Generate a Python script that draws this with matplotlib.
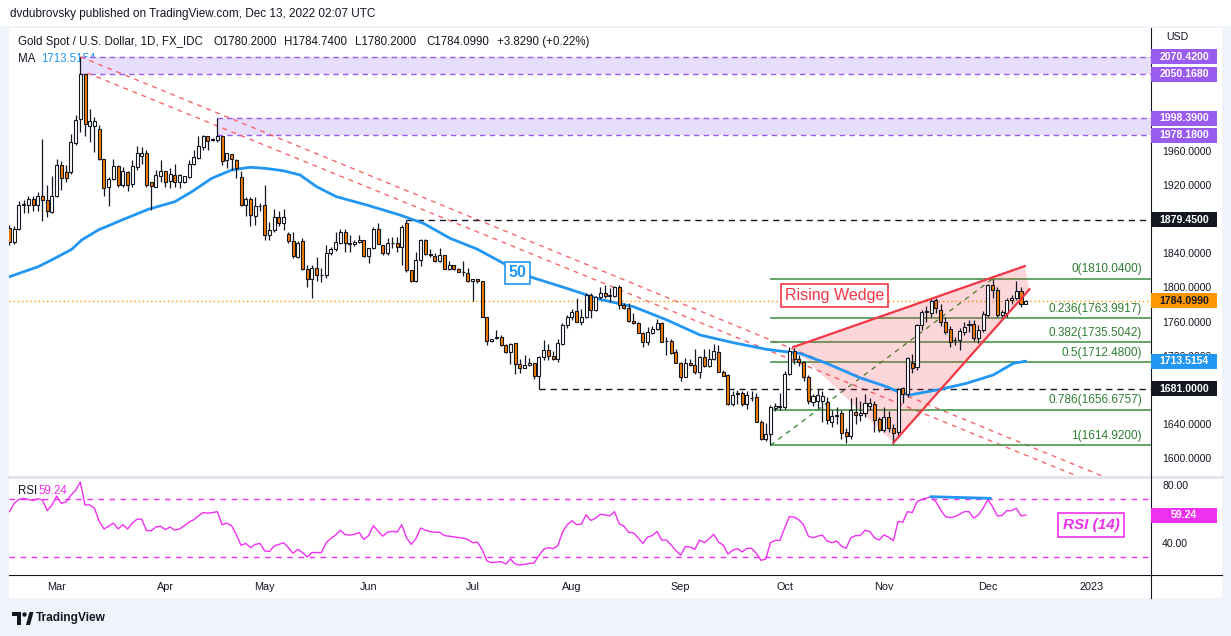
import numpy as np
import pandas as pd
import matplotlib
matplotlib.use("Agg")
import matplotlib.pyplot as plt
import matplotlib.transforms as mtransforms
from matplotlib.patches import Rectangle, Polygon

plt.rcParams['font.family'] = ['Liberation Sans', 'DejaVu Sans']

# daily gold candles, 15 Feb 2022 .. 13 Dec 2022
opens = [1870, 1853, 1868, 1897, 1897, 1904, 1897, 1907, 1902, 1888,
         1907, 1944, 1935, 1935, 1969, 1997, 2050, 1989, 1989, 1986,
         1951, 1918, 1927, 1942, 1920, 1935, 1921, 1941, 1954, 1957,
         1923, 1918, 1931, 1937, 1925, 1932, 1923, 1923, 1930, 1945,
         1952, 1965, 1977, 1973, 1973, 1977, 1949, 1956, 1949, 1929,
         1897, 1904, 1884, 1895, 1897, 1862, 1867, 1883, 1876, 1863,
         1854, 1836, 1854, 1821, 1810, 1823, 1814, 1815, 1840, 1845,
         1852, 1865, 1852, 1851, 1853.5, 1855.5, 1837, 1846, 1868.5, 1850,
         1840, 1852, 1852, 1847, 1875, 1820, 1807, 1832, 1856, 1839,
         1837, 1831, 1838, 1822, 1826, 1822, 1818, 1817, 1807.5, 1810,
         1807.5, 1765, 1737.5, 1741, 1741.5, 1733, 1724.6, 1734.5, 1710, 1706,
         1709, 1711, 1696.5, 1718, 1726.6, 1719.6, 1715.7, 1734, 1756, 1765,
         1772, 1760, 1765, 1791, 1774, 1788.4, 1794, 1790, 1790, 1801,
         1779.4, 1775.5, 1761, 1758.6, 1747, 1736.3, 1747, 1751, 1758.6, 1737.5,
         1737, 1724, 1711, 1695.3, 1711.8, 1708.7, 1701.2, 1718, 1708, 1716,
         1724, 1700.5, 1697, 1663, 1676, 1676, 1663, 1670, 1672, 1642.6,
         1622, 1628, 1659, 1660, 1660, 1699, 1725, 1716, 1712, 1694.6,
         1666, 1667, 1667, 1666, 1642.6, 1649, 1652.4, 1630, 1626, 1653.5,
         1650.4, 1652.4, 1661, 1663, 1645.7, 1633, 1648.4, 1634.8, 1630, 1681.7,
         1675, 1711, 1707, 1756, 1771, 1770.4, 1785, 1773.5, 1760, 1751,
         1738, 1738.3, 1748, 1756, 1757, 1740.3, 1750, 1767.6, 1802.8, 1797.4,
         1767.6, 1769.6, 1785.2, 1787.2, 1796.1, 1780.2]
highs = [1873, 1872, 1901, 1902, 1907, 1907, 1912, 1974, 1920, 1931,
         1951, 1948, 1943, 1980, 2002, 2070.42, 2050.5, 2009, 2000, 1990,
         1951, 1930, 1951, 1943, 1941, 1936, 1949, 1966, 1965, 1961,
         1923, 1938, 1949, 1937, 1940, 1945, 1933, 1931, 1949, 1961,
         1978, 1979, 1977.5, 1975, 1998.39, 1978, 1957, 1956, 1951, 1936,
         1906, 1906, 1906, 1899, 1920, 1877, 1892, 1890, 1892, 1865,
         1865, 1854, 1858, 1826, 1826, 1836, 1823, 1850, 1847, 1865,
         1869, 1868, 1861, 1855, 1861, 1856, 1846, 1871, 1875, 1850,
         1858, 1859, 1859, 1873, 1879.45, 1820, 1842, 1857, 1857, 1845,
         1840, 1846, 1838, 1831, 1826, 1823, 1831, 1823, 1810, 1810,
         1807.5, 1765, 1740, 1750, 1744, 1734, 1735, 1735, 1716, 1721,
         1717, 1711, 1720, 1738, 1734, 1726, 1740, 1758, 1768, 1775,
         1788, 1775, 1794, 1794, 1790, 1800, 1803, 1799, 1802, 1803,
         1782, 1782, 1770, 1759, 1748, 1754, 1755, 1763, 1759, 1742,
         1740, 1728, 1713, 1717, 1716, 1728, 1720, 1728, 1728, 1734,
         1732, 1703, 1698, 1678, 1680, 1679, 1679, 1679, 1676, 1644,
         1641, 1662, 1664, 1676, 1702, 1729.6, 1729, 1721, 1714, 1697,
         1675, 1681, 1678, 1671, 1656, 1660, 1656, 1635, 1670, 1672,
         1667, 1675, 1670, 1667, 1648, 1660, 1655, 1640, 1682, 1683,
         1718, 1722, 1757, 1773, 1778, 1786, 1787, 1780, 1765, 1755,
         1742, 1752, 1760, 1762, 1762, 1756, 1772, 1804.5, 1810.04, 1800,
         1773, 1788, 1791, 1807.5, 1800, 1784.74]
lows = [1850, 1851, 1867, 1887, 1887, 1890, 1890, 1878, 1883, 1887,
        1906, 1914, 1924, 1933, 1967, 1982, 1977, 1971, 1959, 1949,
        1907, 1896, 1926, 1918, 1918, 1913, 1918, 1938, 1945, 1918,
        1891, 1918, 1924, 1918, 1916, 1918, 1917, 1922, 1928, 1944,
        1951, 1961, 1961, 1972, 1971, 1943, 1940, 1938, 1928, 1895,
        1884, 1872, 1873, 1890, 1856, 1856, 1865, 1872, 1867, 1852,
        1835, 1834, 1820, 1800, 1788, 1808, 1806, 1811, 1838, 1843,
        1851, 1842, 1842, 1849, 1852, 1836, 1829, 1845, 1851, 1838,
        1838, 1846, 1842, 1826, 1818, 1806, 1806, 1825, 1838, 1836,
        1830, 1830, 1821, 1820, 1820, 1818, 1813, 1806, 1784, 1805,
        1765, 1733, 1736, 1739, 1731, 1723, 1710, 1699, 1700, 1705,
        1708, 1693, 1681, 1715, 1715, 1715, 1713, 1733, 1752, 1762,
        1760, 1756, 1764, 1764, 1772, 1786, 1788, 1783, 1789, 1775,
        1775, 1760, 1757, 1746, 1730, 1733, 1745, 1750, 1736, 1720.7,
        1722, 1711, 1690.5, 1694.5, 1708, 1699, 1693.5, 1707, 1707, 1715,
        1701, 1696, 1662, 1661, 1663, 1661, 1658, 1667, 1642, 1621,
        1620, 1614.92, 1655, 1656, 1658, 1697, 1710, 1708, 1690, 1663,
        1661, 1659, 1642, 1640, 1636, 1640, 1622, 1618, 1622, 1640,
        1643, 1648, 1656, 1630, 1630, 1630, 1630, 1616.6, 1626, 1664,
        1672, 1700, 1703, 1750, 1760, 1765, 1770, 1755, 1745, 1730,
        1733, 1727, 1744, 1748, 1737, 1735, 1748, 1765, 1787, 1765,
        1765, 1765, 1780, 1785, 1777, 1780.2]
closes = [1853, 1869, 1897, 1898, 1904, 1897, 1907, 1902, 1889, 1907,
          1944, 1928, 1928, 1970, 1996, 2050, 1991, 1995, 1995, 1950,
          1917, 1927, 1942, 1920, 1936, 1920, 1942, 1957, 1957, 1920,
          1919, 1932, 1937, 1924, 1933, 1923, 1932, 1931, 1945, 1953,
          1966, 1977, 1972, 1974, 1977, 1948, 1957, 1951, 1940, 1897,
          1904, 1885, 1895, 1896, 1862, 1867, 1882, 1876, 1883, 1854,
          1837, 1852, 1822, 1810, 1823, 1814, 1815, 1840, 1845, 1853,
          1865, 1852, 1851, 1853.5, 1855.5, 1837, 1846, 1868.5, 1851, 1840,
          1852, 1852, 1847, 1870.5, 1820, 1807, 1832, 1856, 1839, 1838,
          1831, 1838, 1822, 1826, 1822, 1818, 1818, 1807.5, 1810, 1807.5,
          1765, 1737.5, 1740, 1741.5, 1733, 1724.6, 1734, 1710, 1706, 1709,
          1711, 1696.5, 1718, 1726.6, 1719, 1715.7, 1734.5, 1756, 1765, 1771,
          1760, 1765, 1791, 1774, 1788.4, 1794, 1790, 1791, 1801, 1779.4,
          1775.5, 1761, 1758.5, 1747, 1735.6, 1748, 1751, 1758.6, 1736.3, 1737,
          1722.7, 1711, 1695.3, 1711, 1709, 1701.2, 1718, 1708, 1715.6, 1725.4,
          1701, 1696.5, 1663, 1674, 1675, 1663, 1674, 1670.5, 1642.6, 1622,
          1628, 1660, 1660.5, 1661, 1699, 1725, 1716, 1712, 1694.6, 1667,
          1673, 1673.5, 1672.7, 1644.5, 1649, 1650, 1629, 1626, 1656.5, 1650.4,
          1652.4, 1664, 1664, 1644, 1633, 1648.4, 1634.8, 1629, 1681, 1675,
          1716.8, 1705, 1756, 1771.5, 1772.3, 1784.4, 1776, 1760, 1748, 1736.4,
          1738.3, 1749.2, 1754, 1757, 1740.3, 1750, 1768.8, 1802.8, 1797, 1767.6,
          1770.8, 1785.2, 1788, 1796.1, 1780.2, 1784.099]

rsi = [61.6, 67.3, 70.0, 70.7, 70.0, 69.3, 70.5, 69.5, 62.3, 66.2,
       72.3, 67.3, 68.4, 72.9, 76.3, 82.0, 66.2, 66.2, 63.9, 54.9,
       49.7, 51.5, 53.7, 49.7, 52.6, 49.7, 53.7, 56.4, 56.4, 48.5,
       48.5, 51.0, 51.5, 49.2, 51.0, 48.8, 49.7, 51.9, 54.4, 56.0,
       58.7, 61.0, 60.5, 61.0, 61.6, 52.6, 53.7, 51.9, 45.8, 38.4,
       39.7, 36.8, 39.0, 39.7, 34.5, 34.1, 37.9, 39.0, 40.2, 36.8,
       32.9, 35.6, 33.4, 30.4, 33.4, 33.4, 33.4, 40.2, 43.1, 45.4,
       48.8, 45.8, 45.4, 46.0, 47.2, 42.4, 45.1, 51.9, 48.1, 44.7,
       47.4, 48.1, 47.4, 52.6, 43.6, 39.0, 42.9, 50.3, 48.8, 47.9,
       47.4, 47.4, 45.1, 44.7, 44.2, 43.8, 43.3, 42.4, 40.2, 40.6,
       35.6, 27.7, 26.4, 26.8, 27.1, 25.5, 28.9, 25.5, 24.8, 25.3,
       25.9, 26.2, 31.1, 35.6, 36.8, 36.1, 37.9, 47.4, 52.6, 55.3,
       52.6, 53.0, 59.4, 55.5, 57.1, 59.8, 59.4, 58.7, 61.6, 53.3,
       51.5, 47.4, 47.0, 43.6, 39.7, 44.0, 45.1, 47.9, 42.0, 42.0,
       38.6, 34.7, 31.6, 37.5, 37.2, 35.6, 42.0, 40.2, 42.9, 46.0,
       40.6, 38.6, 32.3, 35.0, 36.1, 33.8, 36.3, 36.3, 32.9, 28.0,
       28.9, 40.2, 41.8, 41.8, 50.3, 58.2, 57.8, 56.0, 52.6, 44.7,
       43.6, 44.7, 45.4, 41.3, 40.2, 41.3, 37.9, 36.3, 43.6, 45.1,
       45.1, 48.8, 47.9, 43.6, 42.0, 45.6, 44.0, 41.5, 54.9, 54.4,
       61.6, 61.0, 68.4, 70.0, 71.0, 71.8, 68.4, 62.8, 58.2, 57.5,
       58.2, 59.8, 61.6, 61.6, 57.1, 59.4, 64.0, 70.0, 65.0, 58.7,
       58.9, 62.3, 62.3, 63.9, 58.7, 59.24]

# 50-day moving average, sampled along the drawn line (bar number, price)
ma_bar = [0, 6.1, 9.6, 13.2, 15.3, 18.8, 23.8, 29.4, 35.0, 38.6, 42.8, 47.0,
          50.9, 54.1, 57.9, 61.5, 65.0, 69.2, 75.6, 82.6, 87.6, 93.2, 98.9,
          104.5, 110.1, 117.9, 124.9, 132.0, 139.1, 146.1, 153.1, 160.2, 163.0,
          167.2, 172.9, 179.9, 185.6, 188.4, 190.5, 196.9, 202.5, 208.1, 212.4, 215]
ma_val = [1812.5, 1824.3, 1834.1, 1844.7, 1855.6, 1867.3, 1879.0, 1891.6, 1900.5,
          1912.2, 1927.9, 1937.6, 1940.8, 1939.6, 1936.8, 1931.8, 1918.0, 1906.3,
          1896.6, 1884.9, 1875.1, 1857.6, 1845.0, 1828.3, 1812.5, 1798.9, 1786.0,
          1777.4, 1761.8, 1744.2, 1735.2, 1727.4, 1725.4, 1722.7, 1711.0, 1694.1,
          1683.6, 1676.6, 1673.9, 1680.5, 1687.6, 1697.3, 1711.0, 1713.52]

zone_top = [2070.42, 1998.39]
zone_bot = [2050.168, 1978.18]
zone_start = [15, 44]
level_prices = [1879.45, 1681.0]
level_start = [84, 112]
fib_ratios = ['0', '0.236', '0.382', '0.5', '0.786', '1']
fib_prices = [1810.04, 1763.9917, 1735.5042, 1712.48, 1656.6757, 1614.92]
fib_start = 161
fib_diag_bars = [161, 208]
fib_diag = [1614.92, 1810.04]
trend_bars = [[15, 232], [16.5, 232]]
trend_prices = [[2070.42, 1577.0], [2051.3, 1565.0]]
wedge_up_bars = [165.8, 214.8]
wedge_up = [1730.0, 1825.0]
wedge_lo_bars = [187.0, 215.8]
wedge_lo = [1617.9, 1797.8]
div_bars = [195, 207.5]
div_vals = [71.9, 70.8]
last_price = 1784.099
ma_last = 1713.5154
rsi_last = 59.24
# price-scale labels that are not hidden behind a tag
price_ticks = [1600, 1640, 1720, 1760, 1800, 1840, 1920, 1960]

n = len(closes)
dates = pd.bdate_range('2022-02-15', periods=n)
cal = pd.bdate_range('2022-02-15', '2023-01-31')
mon = cal.month.values
tick_pos = [i for i in range(1, len(cal)) if mon[i] != mon[i - 1]]
tick_lbl = ['2023' if cal[i].year == 2023 else cal[i].strftime('%b') for i in tick_pos]

W, H = 1231, 636
TXT = '#131722'
ORANGE = '#f57c00'
BLUE = '#2196f3'
RED = '#f23645'
GREEN = '#388e3c'
PURPLE = '#9a5bf0'
MAG = '#f030f0'

fig = plt.figure(figsize=(W / 100, H / 100), dpi=100)
bg = fig.add_axes([0, 0, 1, 1])
bg.set_xlim(0, W)
bg.set_ylim(H, 0)
bg.axis('off')
bg.add_patch(Rectangle((0, 0), W, H, fc='#f0f3fa', ec='none'))
bg.add_patch(Rectangle((0, 0), W, 26, fc='white', ec='none'))
bg.add_patch(Rectangle((9, 28), 1213, 570, fc='white', ec='none'))


def px_axes(x0, y0, x1, y1):
    return fig.add_axes([x0 / W, 1 - y1 / H, (x1 - x0) / W, (y1 - y0) / H])


ax = px_axes(9, 28, 1151, 476)
rx = px_axes(9, 477, 1151, 574)
xl = (-0.085, 241.5)
for a in (ax, rx):
    a.set_facecolor('none')
    a.set_xlim(*xl)
    for s in a.spines.values():
        s.set_visible(False)
ax.set_ylim(1578.9, 2104.1)
rx.set_ylim(18.6, 85.5)
kp = (2104.1 - 1578.9) / 448   # price per pixel
kr = (85.5 - 18.6) / 97

# zones
for t, b, s in zip(zone_top, zone_bot, zone_start):
    ax.add_patch(Rectangle((s, b), xl[1] - s, t - b, fc='#e7defc', ec='none', zorder=1))
    ax.hlines([t, b], s, xl[1], colors=PURPLE, lw=1, linestyles=(0, (4, 3)), zorder=2)

# trend lines
for xb, yp in zip(trend_bars, trend_prices):
    ax.plot(xb, yp, color='#f7646e', lw=1, ls=(0, (3.5, 3.5)), zorder=2)

# fib levels
ax.hlines(fib_prices, fib_start, xl[1], colors=GREEN, lw=1.1, zorder=2)
for r, p in zip(fib_ratios, fib_prices):
    ax.annotate(f'{r}({p:.4f})', (239.6, p), xytext=(0, 2.5), textcoords='offset points',
                ha='right', va='bottom', fontsize=8.5, color='#2e7d32', zorder=6)
ax.plot(fib_diag_bars, fib_diag, color=GREEN, lw=1, ls=(0, (3.5, 3.5)), zorder=2)

# horizontal black levels
for p, s in zip(level_prices, level_start):
    ax.hlines(p, s, xl[1], colors=TXT, lw=1, linestyles=(0, (4.5, 3.5)), zorder=2)
ax.axhline(last_price, color='#ff9800', lw=1, ls=(0, (1, 2)), zorder=2)

# wedge
ax.add_patch(Polygon([(wedge_up_bars[0], wedge_up[0]), (wedge_up_bars[1], wedge_up[1]),
                      (wedge_lo_bars[1], wedge_lo[1]), (wedge_lo_bars[0], wedge_lo[0])],
                     closed=True, fc=RED, alpha=0.2, ec='none', zorder=2))
ax.plot(wedge_up_bars, wedge_up, color=RED, lw=1.6, zorder=5)
ax.plot(wedge_lo_bars, wedge_lo, color=RED, lw=1.6, zorder=5)

# moving average
ax.plot(ma_bar, ma_val, color=BLUE, lw=2, zorder=3, solid_capstyle='round')

# candles
for i in range(n):
    o, h, l, c = opens[i], highs[i], lows[i], closes[i]
    ax.vlines(i, l, h, color=TXT, lw=0.9, zorder=4)
    ax.add_patch(Rectangle((i - 0.32, min(o, c)), 0.64, max(abs(c - o), 0.3),
                           fc='white' if c >= o else ORANGE, ec=TXT, lw=0.8, zorder=4.5))

ax.text(107.4, 1817, '50', color=BLUE, fontsize=11.5, fontweight='bold', ha='center', va='center',
        zorder=7, bbox=dict(boxstyle='square,pad=0.22', fc='white', ec=BLUE, lw=1.2))
ax.text(174.6, 1790, 'Rising Wedge', color=RED, fontsize=11.5, ha='center', va='center',
        zorder=7, bbox=dict(boxstyle='square,pad=0.25', fc='white', ec=RED, lw=1.2))

# price axis
ax.yaxis.tick_right()
ax.set_yticks(price_ticks)
ax.set_yticklabels([f'{v:.4f}' for v in price_ticks])
ax.tick_params(axis='y', length=0, pad=8, labelsize=7.6, labelcolor=TXT)
ax.set_xticks([])


def tag(a, k, y, text, fc, tc):
    tr = mtransforms.blended_transform_factory(a.transAxes, a.transData)
    a.add_patch(Rectangle((1.0, y - 7.5 * k), 66 / 1142, 15 * k, transform=tr, fc=fc, ec='none',
                          clip_on=False, zorder=20))
    a.text(1.0 + 33 / 1142, y, text, transform=tr, ha='center', va='center', fontsize=7.6,
           fontweight='bold', color=tc, clip_on=False, zorder=21)


for p in zone_top + zone_bot:
    tag(ax, kp, p, f'{p:.4f}', PURPLE, 'white')
tag(ax, kp, level_prices[0], f'{level_prices[0]:.4f}', TXT, 'white')
tag(ax, kp, level_prices[1], f'{level_prices[1]:.4f}', TXT, 'white')
tag(ax, kp, last_price, f'{last_price:.4f}', '#ff9800', TXT)
tag(ax, kp, ma_last, f'{ma_last:.4f}', BLUE, 'white')

# RSI panel
rx.plot(range(n), rsi, color=MAG, lw=1, zorder=3)
rx.hlines([70, 30], xl[0], xl[1], colors=MAG, lw=1, linestyles=(0, (4, 4)), zorder=2)
rx.plot(div_bars, div_vals, color=BLUE, lw=2, zorder=4)
rx.text(228.8, 52.4, 'RSI (14)', color=MAG, fontsize=11, fontstyle='italic', fontweight='bold',
        ha='center', va='center', bbox=dict(boxstyle='square,pad=0.3', fc='white', ec=MAG, lw=1.2))
rx.yaxis.tick_right()
rx.set_yticks([40, 80])
rx.set_yticklabels(['40.00', '80.00'])
rx.tick_params(axis='y', length=0, pad=8, labelsize=7.6, labelcolor=TXT)
rx.set_xticks(tick_pos)
rx.set_xticklabels(tick_lbl)
rx.tick_params(axis='x', length=0, pad=6, labelsize=7.8, labelcolor=TXT)
tag(rx, kr, rsi_last, f'{rsi_last:.2f}', MAG, 'white')

# frame lines
bg.plot([9, 1222], [476.5, 476.5], color='#e0e3eb', lw=2)
bg.plot([9, 1222], [574.5, 574.5], color=TXT, lw=0.8)
bg.plot([1151, 1151], [28, 598], color=TXT, lw=0.8)

# texts
bg.text(10, 14, 'dvdubrovsky published on TradingView.com, Dec 13, 2022 02:07 UTC',
        fontsize=8.5, color=TXT, va='center')
bg.text(18, 42, 'Gold Spot / U.S. Dollar, 1D, FX_IDC', fontsize=8.3, color=TXT, va='center')
for x, s in zip([213, 284, 355, 426, 497],
                [f'O{opens[-1]:.4f}', f'H{highs[-1]:.4f}', f'L{lows[-1]:.4f}',
                 f'C{closes[-1]:.4f}', '+3.8290 (+0.22%)']):
    bg.text(x, 42, s, fontsize=8.3, color=TXT, va='center')
bg.text(18, 59, 'MA', fontsize=8.3, color=TXT, va='center')
bg.text(41, 59, f'{ma_last:.4f}', fontsize=8.3, color=BLUE, va='center')
bg.text(18, 491, 'RSI', fontsize=8.3, color=TXT, va='center')
bg.text(38, 491, f'{rsi_last:.2f}', fontsize=8.3, color=MAG, va='center')
bg.text(1166, 37, 'USD', fontsize=7.6, color=TXT, va='center')

# logo
bg.add_patch(Polygon([(12, 612), (21, 612), (21, 625), (17, 625), (17, 616), (12, 616)],
                     closed=True, fc=TXT, ec='none'))
bg.add_patch(plt.Circle((24.5, 614.5), 2.2, fc=TXT, ec='none'))
bg.add_patch(Polygon([(26, 625), (29.5, 612), (33.5, 612), (30, 625)], closed=True, fc=TXT, ec='none'))
bg.text(36, 618.5, 'TradingView', fontsize=8.6, fontweight='bold', color=TXT, va='center')

fig.savefig('out.png', dpi=100)
